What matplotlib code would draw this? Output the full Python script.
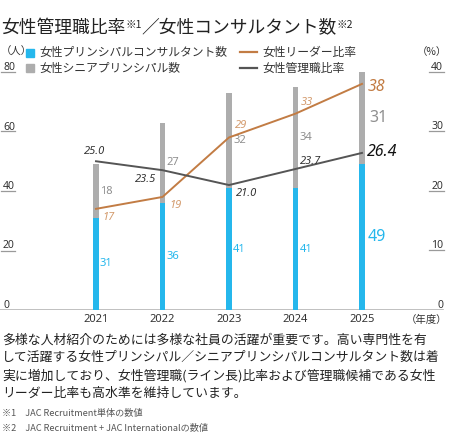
import matplotlib
matplotlib.use("Agg")
import matplotlib.pyplot as plt
import numpy as np

plt.rcParams['font.family'] = ['Noto Sans CJK JP', 'DejaVu Sans']

years = ['2021', '2022', '2023', '2024', '2025']
principal = [31, 36, 41, 41, 49]
senior = [18, 27, 32, 34, 31]
leader_ratio = [17, 19, 29, 33, 38]
manager_ratio = [25.0, 23.5, 21.0, 23.7, 26.4]
left_ticks = [0, 20, 40, 60, 80]
right_ticks = [0, 10, 20, 30, 40]

BLUE = '#25b7ec'
GRAY = '#adadad'
ORANGE = '#c27c44'
ORANGE_T = '#d39a6c'
DARK = '#555555'
TXT = '#333333'

W, H = 450, 445
fig = plt.figure(figsize=(W / 100, H / 100), dpi=100)

def fx(px):
    return px / W

def fy(py):
    return 1 - py / H

# axes: y pixel 310 -> 0, 72 -> 80 ; x full width
y0, y80 = 310, 72
ax = fig.add_axes([0, fy(y0), 1, (y0 - y80) / H])
x0, dx = 96, 66.5
xs = np.arange(len(years))
ax.set_xlim(-x0 / dx, (W - x0) / dx)
ax.set_ylim(0, 80)
ax.axis('off')
ax2 = ax.twinx()
ax2.set_ylim(0, 40)
ax2.axis('off')

bw = 5.7 / dx
ax.bar(xs, principal, width=bw, color=BLUE, zorder=2)
ax.bar(xs, senior, width=bw, bottom=principal, color=GRAY, zorder=2)

# baseline
ax.axhline(0, color='#b5b5b5', lw=1.2, zorder=1, xmin=0, xmax=443 / W)

numfam = ['Noto Sans', 'DejaVu Sans']
xl = -x0 / dx
xr = (W - x0) / dx
# tick labels with underline stubs
for t in left_ticks:
    ax.annotate(str(t), (xl + 3 / dx, t), xytext=(0, 2), textcoords='offset pixels',
                ha='left', va='baseline', fontsize=7.5, color=TXT, family=numfam, annotation_clip=False)
    if t > 0:
        ax.plot([xl + 1 / dx, xl + 15 / dx], [t, t], color='#9a9a9a', lw=0.9, clip_on=False)
for t in right_ticks:
    ax2.annotate(str(t), (xr - 7 / dx, t), xytext=(0, 2), textcoords='offset pixels',
                 ha='right', va='baseline', fontsize=7.5, color=TXT, family=numfam, annotation_clip=False)
    if t > 0:
        ax2.plot([xr - 21 / dx, xr - 6 / dx], [t, t], color='#9a9a9a', lw=0.9, clip_on=False)

# lines
ax2.plot(xs, leader_ratio, color=ORANGE, lw=1.4, zorder=3)
ax2.plot(xs, manager_ratio, color=DARK, lw=1.4, zorder=3)

for i in range(len(years)):
    big = i == len(years) - 1
    fs = 11.5 if big else 8
    ax.annotate(str(principal[i]), (xs[i], principal[i] / 2), xytext=(6 if big else 4, 0),
                textcoords='offset pixels', ha='left', va='center', fontsize=fs, color=BLUE, family=numfam)
    ax.annotate(str(senior[i]), (xs[i], principal[i] + senior[i] / 2), xytext=(7 if big else 4, 0),
                textcoords='offset pixels', ha='left', va='center', fontsize=fs, color='#8f8f8f', family=numfam)

# leader labels
leader_off = [(6, -3, 'top'), (7, -3, 'top'), (6, 6, 'bottom'), (5, 6, 'bottom'), (6, -3, 'center')]
for i, (ox, oy, va) in enumerate(leader_off):
    big = i == len(years) - 1
    ax2.annotate(f"{leader_ratio[i]:d}", (xs[i], leader_ratio[i]), xytext=(ox, oy),
                 textcoords='offset pixels', ha='left', va=va, fontsize=11.5 if big else 8,
                 color=ORANGE if big else ORANGE_T, style='italic', family=numfam)

mgr_off = [(-1, 4, 'center', 'bottom'), (-6, -4, 'right', 'top'), (7, -3, 'left', 'top'),
           (4, 2, 'left', 'bottom'), (5, 1, 'left', 'center')]
for i, (ox, oy, ha, va) in enumerate(mgr_off):
    big = i == len(years) - 1
    ax2.annotate(f"{manager_ratio[i]:.1f}", (xs[i], manager_ratio[i]), xytext=(ox, oy),
                 textcoords='offset pixels', ha=ha, va=va, fontsize=11.5 if big else 8,
                 color='#111111' if big else TXT, style='italic', family=numfam)

# year labels
for i, y in enumerate(years):
    fig.text(fx(x0 + dx * i), fy(320), y, ha='center', va='center', fontsize=8, color=TXT, family=numfam)
fig.text(fx(447), fy(320), '（年度）', ha='right', va='center', fontsize=7.5, color=TXT)

# title built from pieces
fig.canvas.draw()
renderer = fig.canvas.get_renderer()

def pieces(x, ybase, parts):
    cur = x
    for s, size, dy in parts:
        t = fig.text(fx(cur), fy(ybase - dy), s, ha='left', va='baseline', fontsize=size, color='#222222')
        bb = t.get_window_extent(renderer=renderer)
        cur += bb.width

pieces(1, 33, [('女性管理職比率', 12.8, 0), ('※1', 7.5, 5), ('／女性コンサルタント数', 12.8, 0), ('※2', 7.5, 5)])

# legend
fig.text(fx(1), fy(52), '（人）', ha='left', va='center', fontsize=7.5, color=TXT)
fig.text(fx(447), fy(52), '（%）', ha='right', va='center', fontsize=7.5, color=TXT)
fig.patches.append(plt.Rectangle((fx(26), fy(57)), 8 / W, 8 / H, transform=fig.transFigure, color=BLUE))
fig.patches.append(plt.Rectangle((fx(26), fy(72)), 8 / W, 8 / H, transform=fig.transFigure, color=GRAY))
fig.text(fx(39), fy(52), '女性プリンシパルコンサルタント数', ha='left', va='center', fontsize=8.5, color=TXT)
fig.text(fx(39), fy(68), '女性シニアプリンシパル数', ha='left', va='center', fontsize=8.5, color=TXT)
fig.lines.append(plt.Line2D([fx(240), fx(257)], [fy(52), fy(52)], transform=fig.transFigure, color=ORANGE, lw=1.6))
fig.lines.append(plt.Line2D([fx(240), fx(257)], [fy(68), fy(68)], transform=fig.transFigure, color=DARK, lw=1.6))
fig.text(fx(262), fy(52), '女性リーダー比率', ha='left', va='center', fontsize=8.5, color=TXT)
fig.text(fx(262), fy(68), '女性管理職比率', ha='left', va='center', fontsize=8.5, color=TXT)

# body text
body = ['多様な人材紹介のためには多様な社員の活躍が重要です。高い専門性を有',
        'して活躍する女性プリンシパル／シニアプリンシパルコンサルタント数は着',
        '実に増加しており、女性管理職(ライン長)比率および管理職候補である女性',
        'リーダー比率も高水準を維持しています。']
for k, line in enumerate(body):
    fig.text(fx(2), fy(340 + 17.7 * k), line, ha='left', va='center', fontsize=9.25, color='#222222')

fig.text(fx(2), fy(413), '※1　JAC Recruitment単体の数値', ha='left', va='center', fontsize=6.6, color='#555555')
fig.text(fx(2), fy(428), '※2　JAC Recruitment + JAC Internationalの数値', ha='left', va='center', fontsize=6.6, color='#555555')

fig.savefig('out.png', dpi=100)
